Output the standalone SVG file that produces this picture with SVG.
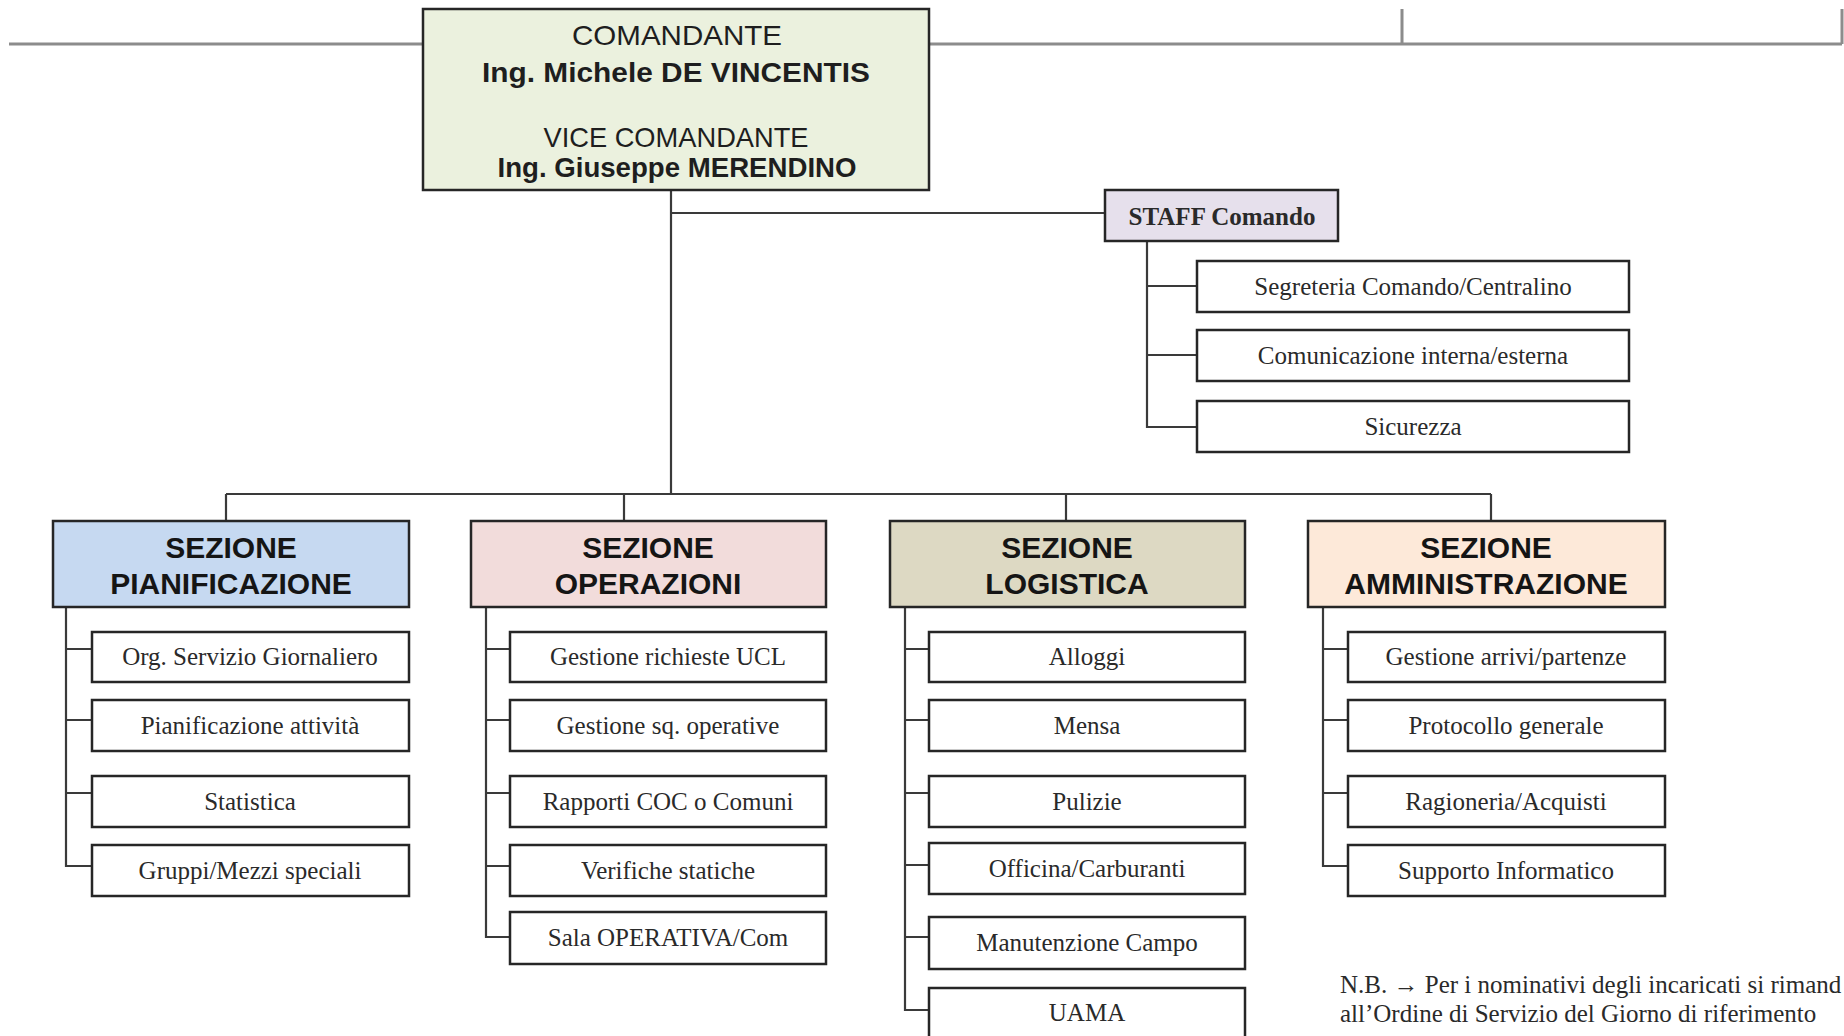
<svg xmlns="http://www.w3.org/2000/svg" width="1844" height="1036" viewBox="0 0 1844 1036">
<style>
.bg{fill:#ffffff}
.box{stroke:#262626;stroke-width:2.5}
.child{fill:#ffffff;stroke:#262626;stroke-width:2.5}
.ln{fill:none;stroke:#3a3a3a;stroke-width:2.2}
.gl{fill:none;stroke:#8c8c8c;stroke-width:3}
.sans{font-family:"Liberation Sans",Arial,sans-serif;fill:#1e1e1e;text-anchor:middle}
.serif{font-family:"Liberation Serif","Times New Roman",serif;fill:#2a2a2a;text-anchor:middle;font-size:25px}
.hdr{font-family:"Liberation Sans",Arial,sans-serif;font-weight:bold;font-size:30px;fill:#151515;text-anchor:middle}
</style>
<rect class="bg" x="0" y="0" width="1844" height="1036"/>
<g id="connectors">
<path class="gl" d="M9 44 H423 M929 44 H1842 M1402 9 V44 M1842 9 V44"/>
<path class="ln" d="M671 190 V494 M671 213 H1105"/>
<path class="ln" d="M226 494 H1491 M226 494 V521 M624 494 V521 M1066 494 V521 M1491 494 V521"/>
<path class="ln" d="M1147 241 V427 H1197 M1147 286 H1197 M1147 355 H1197"/>
<path class="ln" d="M66 607 V866 H92 M66 649 H92 M66 720 H92 M66 793 H92"/>
<path class="ln" d="M486 607 V937 H510 M486 649 H510 M486 720 H510 M486 793 H510 M486 866 H510"/>
<path class="ln" d="M905 607 V1010 H929 M905 649 H929 M905 720 H929 M905 793 H929 M905 865 H929 M905 937 H929"/>
<path class="ln" d="M1323 607 V866 H1348 M1323 649 H1348 M1323 720 H1348 M1323 793 H1348"/>
</g>
<g id="comandante">
<rect class="box" x="423" y="9" width="506" height="181" fill="#ebf1de"/>
<text class="sans" x="677" y="45" font-size="28" textLength="210" lengthAdjust="spacingAndGlyphs">COMANDANTE</text>
<text class="sans" x="676" y="82" font-size="28" font-weight="bold" textLength="388" lengthAdjust="spacingAndGlyphs">Ing. Michele DE VINCENTIS</text>
<text class="sans" x="676" y="147" font-size="28" textLength="265" lengthAdjust="spacingAndGlyphs">VICE COMANDANTE</text>
<text class="sans" x="677" y="177" font-size="28" font-weight="bold" textLength="359" lengthAdjust="spacingAndGlyphs">Ing. Giuseppe MERENDINO</text>
</g>
<g id="staff">
<rect class="box" x="1105" y="190" width="233" height="51" fill="#e6e0ec"/>
<text class="serif" x="1222" y="225" font-weight="bold">STAFF Comando</text>
</g>
<g id="staff-segreteria"><rect class="child" x="1197" y="261" width="432" height="51"/><text class="serif" x="1413" y="295">Segreteria Comando/Centralino</text></g>
<g id="staff-comunicazione"><rect class="child" x="1197" y="330" width="432" height="51"/><text class="serif" x="1413" y="364">Comunicazione interna/esterna</text></g>
<g id="staff-sicurezza"><rect class="child" x="1197" y="401" width="432" height="51"/><text class="serif" x="1413" y="435">Sicurezza</text></g>

<g id="sez-pianificazione">
<rect class="box" x="53" y="521" width="356" height="86" fill="#c6d9f1"/>
<text class="hdr" x="231" y="558">SEZIONE</text>
<text class="hdr" x="231" y="594">PIANIFICAZIONE</text>
</g>
<g id="pian-1"><rect class="child" x="92" y="632" width="317" height="50"/><text class="serif" x="250" y="665">Org. Servizio Giornaliero</text></g>
<g id="pian-2"><rect class="child" x="92" y="700" width="317" height="51"/><text class="serif" x="250" y="734">Pianificazione attività</text></g>
<g id="pian-3"><rect class="child" x="92" y="776" width="317" height="51"/><text class="serif" x="250" y="810">Statistica</text></g>
<g id="pian-4"><rect class="child" x="92" y="845" width="317" height="51"/><text class="serif" x="250" y="879">Gruppi/Mezzi speciali</text></g>

<g id="sez-operazioni">
<rect class="box" x="471" y="521" width="355" height="86" fill="#f2dcdb"/>
<text class="hdr" x="648" y="558">SEZIONE</text>
<text class="hdr" x="648" y="594">OPERAZIONI</text>
</g>
<g id="oper-1"><rect class="child" x="510" y="632" width="316" height="50"/><text class="serif" x="668" y="665">Gestione richieste UCL</text></g>
<g id="oper-2"><rect class="child" x="510" y="700" width="316" height="51"/><text class="serif" x="668" y="734">Gestione sq. operative</text></g>
<g id="oper-3"><rect class="child" x="510" y="776" width="316" height="51"/><text class="serif" x="668" y="810">Rapporti COC o Comuni</text></g>
<g id="oper-4"><rect class="child" x="510" y="845" width="316" height="51"/><text class="serif" x="668" y="879">Verifiche statiche</text></g>
<g id="oper-5"><rect class="child" x="510" y="912" width="316" height="52"/><text class="serif" x="668" y="946">Sala OPERATIVA/Com</text></g>

<g id="sez-logistica">
<rect class="box" x="890" y="521" width="355" height="86" fill="#ddd9c3"/>
<text class="hdr" x="1067" y="558">SEZIONE</text>
<text class="hdr" x="1067" y="594">LOGISTICA</text>
</g>
<g id="logi-1"><rect class="child" x="929" y="632" width="316" height="50"/><text class="serif" x="1087" y="665">Alloggi</text></g>
<g id="logi-2"><rect class="child" x="929" y="700" width="316" height="51"/><text class="serif" x="1087" y="734">Mensa</text></g>
<g id="logi-3"><rect class="child" x="929" y="776" width="316" height="51"/><text class="serif" x="1087" y="810">Pulizie</text></g>
<g id="logi-4"><rect class="child" x="929" y="843" width="316" height="51"/><text class="serif" x="1087" y="877">Officina/Carburanti</text></g>
<g id="logi-5"><rect class="child" x="929" y="917" width="316" height="52"/><text class="serif" x="1087" y="951">Manutenzione Campo</text></g>
<g id="logi-6"><rect class="child" x="929" y="988" width="316" height="60"/><text class="serif" x="1087" y="1021">UAMA</text></g>

<g id="sez-amministrazione">
<rect class="box" x="1308" y="521" width="357" height="86" fill="#fde9d9"/>
<text class="hdr" x="1486" y="558">SEZIONE</text>
<text class="hdr" x="1486" y="594">AMMINISTRAZIONE</text>
</g>
<g id="ammi-1"><rect class="child" x="1348" y="632" width="317" height="50"/><text class="serif" x="1506" y="665">Gestione arrivi/partenze</text></g>
<g id="ammi-2"><rect class="child" x="1348" y="700" width="317" height="51"/><text class="serif" x="1506" y="734">Protocollo generale</text></g>
<g id="ammi-3"><rect class="child" x="1348" y="776" width="317" height="51"/><text class="serif" x="1506" y="810">Ragioneria/Acquisti</text></g>
<g id="ammi-4"><rect class="child" x="1348" y="845" width="317" height="51"/><text class="serif" x="1506" y="879">Supporto Informatico</text></g>

<g id="nota">
<text class="serif" x="1340" y="993" style="text-anchor:start">N.B. <tspan font-weight="bold">→</tspan> Per i nominativi degli incaricati si rimand</text>
<text class="serif" x="1340" y="1022" style="text-anchor:start">all’Ordine di Servizio del Giorno di riferimento</text>
</g>
</svg>
